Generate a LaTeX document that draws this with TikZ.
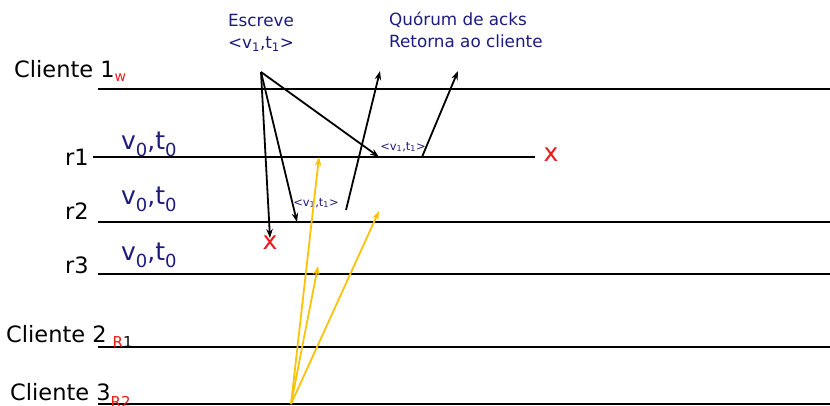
\documentclass[tikz,border=0pt]{standalone}
\usepackage{fontspec}
\setmainfont{DejaVu Sans}
\usetikzlibrary{arrows.meta}
\definecolor{navy}{RGB}{28,28,125}
\definecolor{gold}{RGB}{250,195,10}
\definecolor{xred}{RGB}{235,25,25}
\newcommand{\lowsub}[1]{\raisebox{-0.28em}{\fontsize{0.72em}{1em}\selectfont #1}}
\begin{document}
\begin{tikzpicture}[x=1pt,y=-1pt,
  tline/.style={line width=2.9pt},
  msg/.style={line width=1.8pt,-{Stealth[length=9pt,width=6.5pt]}},
  rdmsg/.style={line width=1.8pt,gold,-{Stealth[length=9pt,width=6.5pt]}},
  big/.style={inner sep=0pt,font=\fontsize{22.5}{26}\selectfont},
  val/.style={inner sep=0pt,text=navy,font=\fontsize{25}{28}\selectfont},
  note/.style={inner sep=0pt,text=navy,font=\fontsize{16.8}{22}\selectfont,align=left},
  small/.style={inner sep=0pt,text=navy,font=\fontsize{11.5}{13}\selectfont},
  cross/.style={inner sep=0pt,text=xred,font=\fontsize{25}{26}\selectfont}]
\useasboundingbox (0,0) rectangle (830,405);
% timelines
\coordinate (c1a) at (98,89);  \coordinate (c1b) at (830,89);
\coordinate (r1a) at (93,157); \coordinate (r1b) at (535,157);
\coordinate (r2a) at (98,222); \coordinate (r2b) at (830,222);
\coordinate (r3a) at (98,274); \coordinate (r3b) at (830,274);
\coordinate (c2a) at (98,347); \coordinate (c2b) at (830,347);
\coordinate (c3a) at (98,404); \coordinate (c3b) at (830,404);
\draw[tline] (c1a) -- (c1b);
\draw[tline] (r1a) -- (r1b);
\draw[tline] (r2a) -- (r2b);
\draw[tline] (r3a) -- (r3b);
\draw[tline] (c2a) -- (c2b);
\draw[tline] (c3a) -- (c3b);
% labels
\node[big,anchor=base west] (lc1) at (14,77) {Cliente 1\raisebox{-4pt}{\fontsize{14}{14}\selectfont\color{xred}w}};
\node[big,anchor=base east] (lr1) at (89,165) {r1};
\node[big,anchor=base east] (lr2) at (89,219) {r2};
\node[big,anchor=base east] (lr3) at (89,273) {r3};
\node[big,anchor=base west] (lc2) at (6,342) {Cliente 2\hspace{6pt}\raisebox{-5pt}{\fontsize{15}{15}\selectfont\textcolor{xred}{R}1}};
\node[big,anchor=base west] (lc3) at (10,400) {Cliente 3\raisebox{-7pt}{\fontsize{15}{15}\selectfont\textcolor{xred}{R2}}};
\node[val,anchor=base west] (v1) at (121,149) {v\lowsub{0},t\lowsub{0}};
\node[val,anchor=base west] (v2) at (121,204) {v\lowsub{0},t\lowsub{0}};
\node[val,anchor=base west] (v3) at (121,260) {v\lowsub{0},t\lowsub{0}};
\node[note,align=center] (esc) at (261,33) {Escreve\\ <v\textsubscript{1},t\textsubscript{1}>};
\node[note,anchor=north west] (quo) at (389,12) {Quórum de acks\\Retorna ao cliente};
\node[small] (m1) at (403,147) {<v\textsubscript{1},t\textsubscript{1}>};
\node[small] (m2) at (316,203) {<v\textsubscript{1},t\textsubscript{1}>};
\node[cross] (x1) at (551,155) {x};
\node[cross] (x3) at (270,243) {x};
% write messages
\coordinate (w0) at (261,72);
\coordinate (w1) at (270,238);
\coordinate (w2) at (297,222);
\coordinate (w3) at (379,157);
\draw[msg] (w0) -- (w1);
\draw[msg] (w0) -- (w2);
\draw[msg] (w0) -- (w3);
% acks
\coordinate (a2s) at (346,210); \coordinate (a2e) at (380,71);
\coordinate (a1s) at (422,157); \coordinate (a1e) at (458,71);
\draw[msg] (a2s) -- (a2e);
\draw[msg] (a1s) -- (a1e);
% reads
\coordinate (rd0) at (291,404);
\coordinate (rd1) at (319,157);
\coordinate (rd2) at (318,266);
\coordinate (rd3) at (379,211);
\draw[rdmsg] (rd0) -- (rd1);
\draw[rdmsg] (rd0) -- (rd2);
\draw[rdmsg] (rd0) -- (rd3);
\end{tikzpicture}
\end{document}
